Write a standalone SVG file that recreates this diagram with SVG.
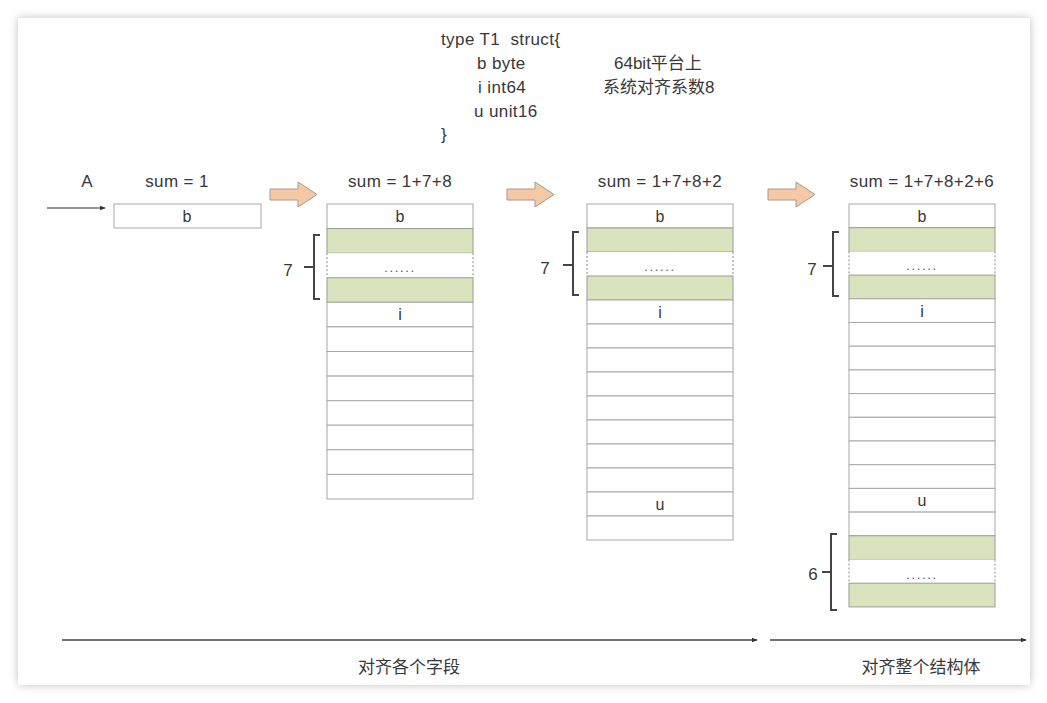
<svg xmlns="http://www.w3.org/2000/svg" width="1047" height="703" viewBox="0 0 1047 703">
<defs>
<filter id="sh" x="-5%" y="-5%" width="110%" height="110%">
<feGaussianBlur in="SourceAlpha" stdDeviation="5"/>
<feComponentTransfer><feFuncA type="linear" slope="0.25"/></feComponentTransfer>
<feMerge><feMergeNode/><feMergeNode in="SourceGraphic"/></feMerge>
</filter>
<marker id="ah" viewBox="0 0 10 10" refX="9" refY="5" markerWidth="6" markerHeight="6" orient="auto" markerUnits="userSpaceOnUse">
<path d="M0,1 L10,5 L0,9 Z" fill="#333"/>
</marker>
</defs>
<style>
text{font-family:"Liberation Sans","Noto Sans CJK SC",Arial,sans-serif;fill:#383838;}
.t17{font-size:17px;}
.ls{letter-spacing:0.4px;}
.t16{font-size:16px;}
.c{text-anchor:middle;}
.cell{fill:#fff;stroke:#a8a8a8;stroke-width:1;}
.g{fill:#d9e4be;stroke:#9a9a9a;stroke-width:1;}
.dl{stroke:#8a8a8a;stroke-width:1;stroke-dasharray:2 2;fill:none;}
.dots{font-size:13px;letter-spacing:1.6px;fill:#555;}
.br{fill:none;stroke:#444;stroke-width:2;}
.blk{fill:#f5c9a6;stroke:#a89a8e;stroke-width:1;}
.ln{stroke:#444;stroke-width:1.5;fill:none;}
.ln1{stroke:#333;stroke-width:1.2;fill:none;}
</style>
<rect x="0" y="0" width="1047" height="703" fill="#ffffff"/>
<rect x="18" y="18" width="1012" height="667" rx="3" fill="#ffffff" filter="url(#sh)"/>

<g id="code">
<text class="t17 ls" x="441" y="45" xml:space="preserve">type T1  struct{</text>
<text class="t17 ls" x="477" y="69">b byte</text>
<text class="t17 ls" x="478" y="93">i int64</text>
<text class="t17 ls" x="474" y="117">u unit16</text>
<text class="t17" x="441" y="140">}</text>
<text class="t17" x="614" y="69">64bit平台上</text>
<text class="t17" x="603" y="93">系统对齐系数8</text>
</g>

<g id="stage0">
<text class="t17 c" x="87" y="187">A</text>
<text class="t17 ls c" x="177" y="187">sum = 1</text>
<rect class="cell" x="114" y="204" width="147" height="24"/>
<text class="t16 c" x="187" y="222">b</text>
</g>

<g id="stage1">
<text class="t17 ls c" x="400" y="187">sum = 1+7+8</text>
<rect class="cell" x="327" y="204" width="146" height="24.6"/>
<text class="t16 c" x="400" y="222">b</text>
<rect class="g" x="327" y="228.6" width="146" height="24.6"/>
<rect x="327" y="253.2" width="146" height="24.55" fill="#fff"/>
<path class="dl" d="M327,253.2 V277.75 M473,253.2 V277.75"/>
<text class="dots c" x="400" y="272">......</text>
<rect class="g" x="327" y="277.75" width="146" height="24.55"/>
<rect class="cell" x="327" y="302.3" width="146" height="24.6"/>
<text class="t16 c" x="400" y="320">i</text>
<rect class="cell" x="327" y="326.9" width="146" height="24.6"/>
<rect class="cell" x="327" y="351.5" width="146" height="24.6"/>
<rect class="cell" x="327" y="376.1" width="146" height="24.6"/>
<rect class="cell" x="327" y="400.7" width="146" height="24.5"/>
<rect class="cell" x="327" y="425.2" width="146" height="24.6"/>
<rect class="cell" x="327" y="449.8" width="146" height="24.6"/>
<rect class="cell" x="327" y="474.4" width="146" height="24.6"/>
<path class="br" d="M320,235 H314 V299 H320 M314,267 H304"/>
<text class="t17 c" x="288" y="276">7</text>
</g>

<g id="stage2">
<text class="t17 ls c" x="660" y="187">sum = 1+7+8+2</text>
<rect class="cell" x="587" y="204" width="146" height="24"/>
<text class="t16 c" x="660" y="222">b</text>
<rect class="g" x="587" y="228" width="146" height="24"/>
<rect x="587" y="252" width="146" height="24" fill="#fff"/>
<path class="dl" d="M587,252 V276 M733,252 V276"/>
<text class="dots c" x="660" y="271">......</text>
<rect class="g" x="587" y="276" width="146" height="24"/>
<rect class="cell" x="587" y="300" width="146" height="24"/>
<text class="t16 c" x="660" y="318">i</text>
<rect class="cell" x="587" y="324" width="146" height="24"/>
<rect class="cell" x="587" y="348" width="146" height="24"/>
<rect class="cell" x="587" y="372" width="146" height="24"/>
<rect class="cell" x="587" y="396" width="146" height="24"/>
<rect class="cell" x="587" y="420" width="146" height="24"/>
<rect class="cell" x="587" y="444" width="146" height="24"/>
<rect class="cell" x="587" y="468" width="146" height="24"/>
<rect class="cell" x="587" y="492" width="146" height="24"/>
<text class="t16 c" x="660" y="510">u</text>
<rect class="cell" x="587" y="516" width="146" height="24"/>
<path class="br" d="M579,232 H573 V295 H579 M573,265 H563"/>
<text class="t17 c" x="545" y="274">7</text>
</g>

<g id="stage3">
<text class="t17 ls c" x="922" y="187">sum = 1+7+8+2+6</text>
<rect class="cell" x="849" y="204" width="146" height="23.7"/>
<text class="t16 c" x="922" y="222">b</text>
<rect class="g" x="849" y="227.7" width="146" height="23.7"/>
<rect x="849" y="251.4" width="146" height="23.7" fill="#fff"/>
<path class="dl" d="M849,251.4 V275.1 M995,251.4 V275.1"/>
<text class="dots c" x="922" y="270">......</text>
<rect class="g" x="849" y="275.1" width="146" height="23.7"/>
<rect class="cell" x="849" y="298.8" width="146" height="23.7"/>
<text class="t16 c" x="922" y="317">i</text>
<rect class="cell" x="849" y="322.5" width="146" height="23.7"/>
<rect class="cell" x="849" y="346.2" width="146" height="23.7"/>
<rect class="cell" x="849" y="369.9" width="146" height="23.7"/>
<rect class="cell" x="849" y="393.6" width="146" height="23.7"/>
<rect class="cell" x="849" y="417.3" width="146" height="23.7"/>
<rect class="cell" x="849" y="441" width="146" height="23.7"/>
<rect class="cell" x="849" y="464.7" width="146" height="23.7"/>
<rect class="cell" x="849" y="488.4" width="146" height="23.7"/>
<text class="t16 c" x="922" y="506">u</text>
<rect class="cell" x="849" y="512.1" width="146" height="23.7"/>
<rect class="g" x="849" y="535.8" width="146" height="23.7"/>
<rect x="849" y="559.5" width="146" height="23.7" fill="#fff"/>
<path class="dl" d="M849,559.5 V583.2 M995,559.5 V583.2"/>
<text class="dots c" x="922" y="579">......</text>
<rect class="g" x="849" y="583.2" width="146" height="23.7"/>
<path class="br" d="M839,232 H833 V296 H839 M833,266 H823"/>
<text class="t17 c" x="812" y="275">7</text>
<path class="br" d="M837,534 H831 V610 H837 M831,572 H822"/>
<text class="t17 c" x="813" y="580">6</text>
</g>

<g id="labels">
<text class="t17 c" x="409" y="673">对齐各个字段</text>
<text class="t17 c" x="921" y="673">对齐整个结构体</text>
</g>

<g id="connectors">
<line class="ln1" x1="47" y1="208" x2="105" y2="208" marker-end="url(#ah)"/>
<path class="blk" d="M270,189 H298 V182 L317,194.5 L298,207 V200 H270 Z"/>
<path class="blk" d="M507,189 H535 V182 L554,194.5 L535,207 V200 H507 Z"/>
<path class="blk" d="M768,189 H796 V182 L815,194.5 L796,207 V200 H768 Z"/>
<line class="ln" x1="62" y1="640" x2="757" y2="640" marker-end="url(#ah)"/>
<line class="ln" x1="770" y1="640" x2="1026" y2="640" marker-end="url(#ah)"/>
</g>
</svg>
